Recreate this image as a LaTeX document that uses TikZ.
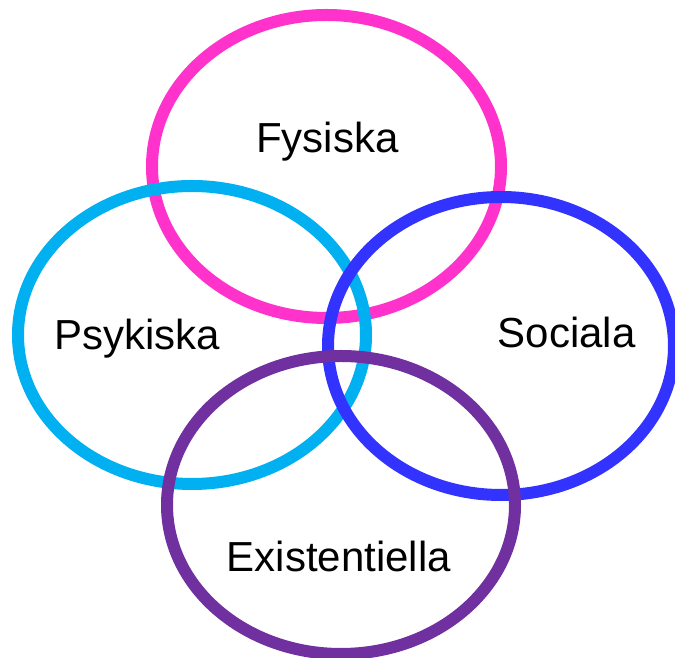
\documentclass[tikz,border=0pt]{standalone}
\usepackage{fontspec}
\setmainfont{Liberation Sans}
\definecolor{cfys}{HTML}{FF33CC}
\definecolor{cpsy}{HTML}{00B0F0}
\definecolor{csoc}{HTML}{3333FF}
\definecolor{cexi}{HTML}{7030A0}
\begin{document}
\begin{tikzpicture}[x=1pt,y=1pt,
  ring/.style={line width=12pt},
  lbl/.style={font=\fontsize{42}{46}\selectfont, anchor=base, inner sep=0pt}]
\useasboundingbox (0,0) rectangle (675,658);
\clip (0,0) rectangle (675,658);
\draw[ring, cfys] (326.5,491.5) ellipse [x radius=174.5, y radius=151.5];
\draw[ring, cpsy] (192,323) ellipse [x radius=174, y radius=149];
\draw[ring, csoc] (501,312) ellipse [x radius=173, y radius=149];
\draw[ring, cexi] (341,153) ellipse [x radius=174, y radius=149];
\node[lbl] (fys) at (327.5,505) {Fysiska};
\node[lbl] (psy) at (137.5,308) {Psykiska};
\node[lbl] (soc) at (566.7,310) {Sociala};
\node[lbl] (exi) at (338.8,86) {Existentiella};
\end{tikzpicture}
\end{document}
